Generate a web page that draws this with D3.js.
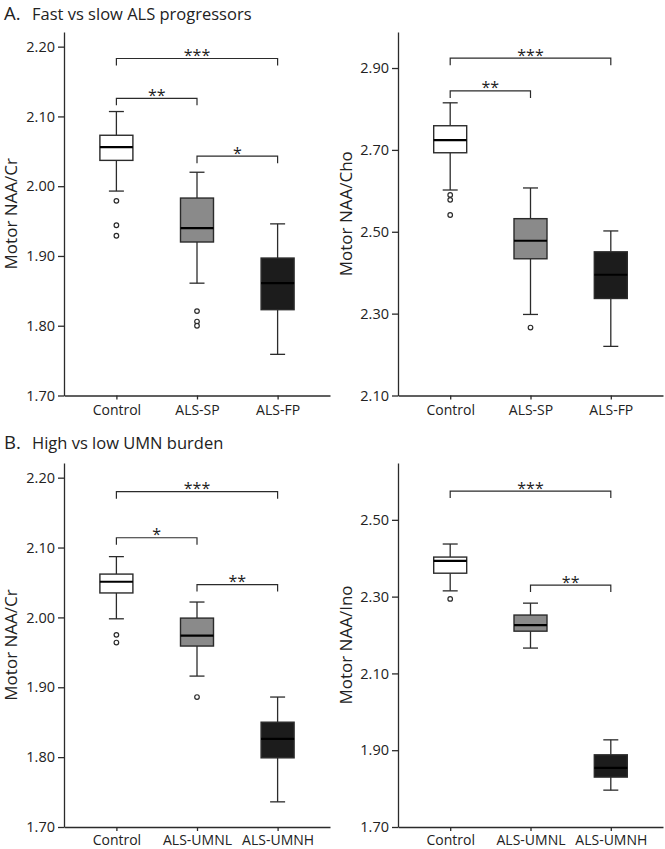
<!DOCTYPE html>
<html>
<head>
<meta charset="utf-8">
<script src="https://cdn.jsdelivr.net/npm/d3@7"></script>
<style>
  html, body { margin: 0; padding: 0; background: #fff; }
  svg { display: block; font-family: "Open Sans", "Noto Sans", sans-serif; }
</style>
</head>
<body>
<svg id="chart" width="665" height="849"></svg>
<script>
// ---------- DATA ----------
const categoriesA = ["Control", "ALS-SP", "ALS-FP"];
const categoriesB = ["Control", "ALS-UMNL", "ALS-UMNH"];
const groupFills = ["#ffffff", "#8a8a8a", "#1c1c1c"];

// box stats per group: [lower whisker, Q1, median, Q3, upper whisker]
const naaCrFastSlow  = [[1.993, 2.037, 2.056, 2.073, 2.107], [1.861, 1.920, 1.940, 1.983, 2.020], [1.759, 1.823, 1.861, 1.897, 1.946]];
const naaChoFastSlow = [[2.602, 2.693, 2.724, 2.759, 2.815], [2.298, 2.434, 2.478, 2.532, 2.607], [2.220, 2.337, 2.395, 2.451, 2.502]];
const naaCrUmn       = [[1.998, 2.035, 2.051, 2.062, 2.087], [1.916, 1.959, 1.974, 1.999, 2.022], [1.736, 1.799, 1.826, 1.850, 1.886]];
const naaInoUmn      = [[2.315, 2.361, 2.393, 2.403, 2.437], [2.166, 2.210, 2.226, 2.252, 2.283], [1.796, 1.830, 1.854, 1.888, 1.927]];

// outliers per group
const naaCrFastSlowOut  = [[1.979, 1.944, 1.929], [1.821, 1.806, 1.800], []];
const naaChoFastSlowOut = [[2.590, 2.578, 2.541], [2.266], []];
const naaCrUmnOut       = [[1.975, 1.964], [1.886], []];
const naaInoUmnOut      = [[2.294], [], []];

// significance brackets: [from group, to group, level, label]
const naaCrFastSlowSig  = [[0, 2, 2.183, "***"], [0, 1, 2.126, "**"], [1, 2, 2.043, "*"]];
const naaChoFastSlowSig = [[0, 2, 2.924, "***"], [0, 1, 2.844, "**"]];
const naaCrUmnSig       = [[0, 2, 2.180, "***"], [0, 1, 2.114, "*"], [1, 2, 2.047, "**"]];
const naaInoUmnSig      = [[0, 2, 2.575, "***"], [1, 2, 2.330, "**"]];

// y tick values
const ticksCr  = [1.70, 1.80, 1.90, 2.00, 2.10, 2.20];
const ticksCho = [2.10, 2.30, 2.50, 2.70, 2.90];
const ticksIno = [1.70, 1.90, 2.10, 2.30, 2.50];

const yLabels = ["Motor NAA/Cr", "Motor NAA/Cho", "Motor NAA/Cr", "Motor NAA/Ino"];
const sectionLetters = ["A.", "B."];
const sectionTitles = ["Fast vs slow ALS progressors", "High vs low UMN burden"];

// ---------- DRAW ----------
const svg = d3.select("#chart");
const ink = "#2b2b2b";

const panels = [
  { cats: categoriesA, stats: naaCrFastSlow,  out: naaCrFastSlowOut,  sig: naaCrFastSlowSig,  ticks: ticksCr,  domain: [1.70, 2.221], label: yLabels[0], x0: 64,  x1: 330, yTop: 32,  yBot: 395.5, labX: 10,  labY: 10 },
  { cats: categoriesA, stats: naaChoFastSlow, out: naaChoFastSlowOut, sig: naaChoFastSlowSig, ticks: ticksCho, domain: [2.10, 2.988], label: yLabels[1], x0: 398, x1: 663, yTop: 32,  yBot: 395.5, labX: 345, labY: 10 },
  { cats: categoriesB, stats: naaCrUmn,       out: naaCrUmnOut,       sig: naaCrUmnSig,       ticks: ticksCr,  domain: [1.70, 2.221], label: yLabels[2], x0: 64,  x1: 330, yTop: 463, yBot: 827,   labX: 10,  labY: 8.5 },
  { cats: categoriesB, stats: naaInoUmn,      out: naaInoUmnOut,      sig: naaInoUmnSig,      ticks: ticksIno, domain: [1.70, 2.648], label: yLabels[3], x0: 398, x1: 663, yTop: 463, yBot: 827,   labX: 345, labY: 8.5 }
];

panels.forEach(p => {
  const g = svg.append("g");
  const x = d3.scalePoint().domain(p.cats).range([p.x0, p.x1]).padding(0.65);
  const y = d3.scaleLinear().domain(p.domain).range([p.yBot, p.yTop]);

  // y axis
  const yAxis = g.append("g").attr("transform", `translate(${p.x0},0)`)
    .call(d3.axisLeft(y).tickValues(p.ticks).tickFormat(d3.format(".2f")).tickSize(6).tickSizeOuter(0));
  yAxis.select(".domain").attr("stroke", ink).attr("stroke-width", 1.3);
  yAxis.selectAll(".tick line").attr("stroke", ink).attr("stroke-width", 1.3);
  yAxis.selectAll(".tick text").attr("font-size", 14.5).attr("fill", "#222").attr("x", -9)
    .attr("font-family", "'Open Sans', sans-serif");

  // x axis
  const xAxis = g.append("g").attr("transform", `translate(0,${p.yBot})`)
    .call(d3.axisBottom(x).tickSize(4).tickSizeOuter(0));
  xAxis.select(".domain").attr("stroke", ink).attr("stroke-width", 1.3);
  xAxis.selectAll(".tick line").attr("stroke", ink).attr("stroke-width", 1.3);
  xAxis.selectAll(".tick text").attr("font-size", 14).attr("fill", "#222").attr("y", p.labY)
    .attr("font-family", "'Open Sans', sans-serif");

  // y label
  g.append("text")
    .attr("transform", `translate(${p.labX},${(p.yTop + p.yBot) / 2}) rotate(-90)`)
    .attr("text-anchor", "middle").attr("dominant-baseline", "central")
    .attr("font-size", 17).attr("fill", "#222").text(p.label);

  const boxW = 33, capW = 15;
  p.cats.forEach((c, i) => {
    const [lo, q1, med, q3, hi] = p.stats[i];
    const cx = x(c);
    const stroke = ink;
    // whiskers
    g.append("line").attr("x1", cx).attr("x2", cx).attr("y1", y(hi)).attr("y2", y(q3)).attr("stroke", stroke).attr("stroke-width", 1.3);
    g.append("line").attr("x1", cx).attr("x2", cx).attr("y1", y(q1)).attr("y2", y(lo)).attr("stroke", stroke).attr("stroke-width", 1.3);
    g.append("line").attr("x1", cx - capW / 2).attr("x2", cx + capW / 2).attr("y1", y(hi)).attr("y2", y(hi)).attr("stroke", stroke).attr("stroke-width", 1.3);
    g.append("line").attr("x1", cx - capW / 2).attr("x2", cx + capW / 2).attr("y1", y(lo)).attr("y2", y(lo)).attr("stroke", stroke).attr("stroke-width", 1.3);
    // box
    g.append("rect").attr("x", cx - boxW / 2).attr("y", y(q3)).attr("width", boxW).attr("height", y(q1) - y(q3))
      .attr("fill", groupFills[i]).attr("stroke", stroke).attr("stroke-width", 1.4);
    // median
    g.append("line").attr("x1", cx - boxW / 2).attr("x2", cx + boxW / 2).attr("y1", y(med)).attr("y2", y(med))
      .attr("stroke", "#000").attr("stroke-width", 2.2);
    // outliers
    p.out[i].forEach(v => {
      g.append("circle").attr("cx", cx).attr("cy", y(v)).attr("r", 2.3)
        .attr("fill", "#fff").attr("stroke", stroke).attr("stroke-width", 1.2);
    });
  });

  // significance brackets
  p.sig.forEach(([a, b, lvl, lab]) => {
    const xa = x(p.cats[a]), xb = x(p.cats[b]), yy = y(lvl);
    g.append("path").attr("d", `M${xa},${yy + 7}V${yy}H${xb}V${yy + 7}`)
      .attr("fill", "none").attr("stroke", ink).attr("stroke-width", 1.2);
    g.append("text").attr("x", (xa + xb) / 2).attr("y", yy + 2.5).attr("text-anchor", "middle")
      .attr("font-size", 16).attr("fill", "#222").text(lab);
  });
});

// section titles
[[20, 0], [449, 1]].forEach(([by, i]) => {
  const t = svg.append("text").attr("x", 4).attr("y", by).attr("fill", "#222");
  t.append("tspan").attr("font-size", 18.5).text(sectionLetters[i]);
  t.append("tspan").attr("x", 32).attr("font-size", 16.5).text(sectionTitles[i]);
});
</script>
</body>
</html>
